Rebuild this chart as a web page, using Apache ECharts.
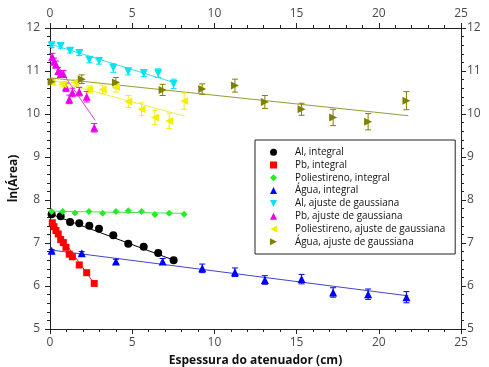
<!DOCTYPE html>
<html>
<head>
<meta charset="utf-8">
<script src="https://cdn.jsdelivr.net/npm/echarts@6/dist/echarts.min.js"></script>
<style>
  html, body { margin: 0; padding: 0; background: #fff; }
  #chart { width: 489px; height: 367px; }
</style>
</head>
<body>
<div id="chart"></div>
<script>
// espessuras (cm)
var xAl = [0.1, 0.65, 1.22, 1.78, 2.39, 2.98, 3.85, 4.76, 5.7, 6.58, 7.52];
var xPb = [0.14, 0.24, 0.36, 0.5, 0.65, 0.81, 0.97, 1.17, 1.36, 1.78, 2.23, 2.69];
var xPol = [0.1, 0.77, 1.52, 2.37, 3.2, 4.01, 4.76, 5.57, 6.38, 7.25, 8.16];
var xAgua = [0.1, 1.93, 4.01, 6.85, 9.26, 11.25, 13.07, 15.3, 17.22, 19.35, 21.68];

// ln(Area), integral
var alInt = [7.67, 7.62, 7.49, 7.46, 7.40, 7.33, 7.18, 6.98, 6.91, 6.77, 6.60];
var pbInt = [7.47, 7.38, 7.29, 7.21, 7.08, 7.01, 6.90, 6.74, 6.68, 6.49, 6.31, 6.06];
var polInt = [7.73, 7.73, 7.70, 7.73, 7.69, 7.73, 7.75, 7.73, 7.66, 7.69, 7.67];
var aguaInt = [6.82, 6.76, 6.57, 6.57, 6.41, 6.32, 6.14, 6.16, 5.85, 5.81, 5.74];
var aguaIntErr = [0.03, 0.04, 0.05, 0.07, 0.1, 0.1, 0.1, 0.11, 0.11, 0.12, 0.13];

// ln(Area), ajuste de gaussiana
var alGau = [11.60, 11.58, 11.47, 11.42, 11.26, 11.23, 11.07, 10.99, 10.95, 10.95, 10.70];
var alGauErr = [0.05, 0.05, 0.05, 0.06, 0.07, 0.07, 0.1, 0.08, 0.08, 0.1, 0.11];
var pbGau = [11.33, 11.22, 11.15, 11.0, 10.93, 10.93, 10.62, 10.34, 10.50, 10.52, 10.40, 9.68];
var pbGauErr = [0.08, 0.08, 0.08, 0.08, 0.08, 0.08, 0.1, 0.1, 0.1, 0.1, 0.12, 0.1];
var polGau = [10.73, 10.69, 10.73, 10.57, 10.57, 10.63, 10.29, 10.11, 9.92, 9.84, 10.30];
var polGauErr = [0.05, 0.06, 0.07, 0.08, 0.1, 0.12, 0.14, 0.15, 0.17, 0.18, 0.19];
var aguaGau = [10.75, 10.81, 10.73, 10.56, 10.58, 10.66, 10.28, 10.11, 9.92, 9.82, 10.31];
var aguaGauErr = [0.06, 0.1, 0.12, 0.13, 0.12, 0.15, 0.15, 0.14, 0.19, 0.19, 0.21];

// retas ajustadas [x0, y0, x1, y1]
var fitAlInt = [0, 7.68, 7.6, 6.59];
var fitPbInt = [0, 7.5, 2.7, 6.05];
var fitPolInt = [0, 7.74, 8.2, 7.69];
var fitAguaInt = [0, 6.84, 21.8, 5.77];
var fitAlGau = [0, 11.63, 7.55, 10.73];
var fitPbGau = [0, 11.38, 2.75, 9.85];
var fitPolGau = [0, 10.8, 8.2, 9.95];
var fitAguaGau = [0, 10.84, 21.8, 9.96];

var xTicks = [0, 5, 10, 15, 20, 25];
var yTicks = [5, 6, 7, 8, 9, 10, 11, 12];

var names = ['Al, integral', 'Pb, integral', 'Poliestireno, integral', 'Água, integral',
  'Al, ajuste de gaussiana', 'Pb, ajuste de gaussiana', 'Poliestireno, ajuste de gaussiana', 'Água, ajuste de gaussiana'];

var triUp = 'path://M5,0L10,10L0,10Z';
var triDown = 'path://M0,0L10,0L5,10Z';
var triLeft = 'path://M10,0L10,10L0,5Z';
var triRight = 'path://M0,0L0,10L10,5Z';

var sets = [
  { x: xAl, y: alInt, fit: fitAlInt, color: '#000000', line: '#000000', symbol: 'circle', size: 8, icon: 'circle' },
  { x: xPb, y: pbInt, fit: fitPbInt, color: '#ff0000', line: '#ff2020', symbol: 'rect', size: 7, icon: 'rect' },
  { x: xPol, y: polInt, fit: fitPolInt, color: '#22ee22', line: '#55dd55', symbol: 'diamond', size: 7, icon: 'diamond' },
  { x: xAgua, y: aguaInt, err: aguaIntErr, fit: fitAguaInt, color: '#0000ff', line: '#4444cc', symbol: triUp, size: 8, icon: triUp },
  { x: xAl, y: alGau, err: alGauErr, fit: fitAlGau, color: '#00e5ee', line: '#33e0e8', symbol: triDown, size: 8, icon: triDown },
  { x: xPb, y: pbGau, err: pbGauErr, fit: fitPbGau, color: '#ee00ee', line: '#dd44dd', symbol: triUp, size: 8, icon: triUp },
  { x: xPol, y: polGau, err: polGauErr, fit: fitPolGau, color: '#f0f000', line: '#f0f040', symbol: triLeft, size: 8, icon: triLeft },
  { x: xAgua, y: aguaGau, err: aguaGauErr, fit: fitAguaGau, color: '#808000', line: '#9a9a33', symbol: triRight, size: 8, icon: triRight }
];

function zip(xs, ys) {
  return xs.map(function (v, i) { return [v, ys[i]]; });
}

function errBar(params, api) {
  var x = api.value(0), y = api.value(1), e = api.value(2);
  var lo = api.coord([x, y - e]);
  var hi = api.coord([x, y + e]);
  var cw = 3;
  var st = api.style({ stroke: api.visual('color'), fill: null, lineWidth: 1 });
  return {
    type: 'group',
    children: [
      { type: 'line', shape: { x1: lo[0], y1: lo[1], x2: hi[0], y2: hi[1] }, style: st },
      { type: 'line', shape: { x1: lo[0] - cw, y1: lo[1], x2: lo[0] + cw, y2: lo[1] }, style: st },
      { type: 'line', shape: { x1: hi[0] - cw, y1: hi[1], x2: hi[0] + cw, y2: hi[1] }, style: st }
    ]
  };
}

var series = [];
sets.forEach(function (s) {
  series.push({
    type: 'line', silent: true, symbol: 'none', z: 1,
    lineStyle: { color: s.line, width: 1 },
    data: [[s.fit[0], s.fit[1]], [s.fit[2], s.fit[3]]]
  });
});
sets.forEach(function (s) {
  if (!s.err) return;
  series.push({
    type: 'custom', silent: true, z: 2,
    itemStyle: { color: s.color },
    renderItem: errBar,
    data: s.x.map(function (v, i) { return [v, s.y[i], s.err[i]]; })
  });
});
sets.forEach(function (s, i) {
  series.push({
    name: names[i], type: 'scatter', z: 3,
    symbol: s.symbol, symbolSize: s.size,
    itemStyle: { color: s.color, opacity: 1 },
    data: zip(s.x, s.y)
  });
});

var font = 'Open Sans';
var labelStyle = { color: '#4a4a4a', fontSize: 12, fontFamily: font };
var axisLine = { show: true, onZero: false, lineStyle: { color: '#222', width: 1 } };

function xAx(pos) {
  return {
    type: 'value', position: pos, min: xTicks[0], max: xTicks[xTicks.length - 1], interval: 5,
    axisLine: axisLine,
    axisTick: { show: true, length: 5, lineStyle: { color: '#222' } },
    minorTick: { show: true, splitNumber: 5, length: 3, lineStyle: { color: '#222' } },
    splitLine: { show: false },
    axisLabel: Object.assign({ margin: 8 }, labelStyle)
  };
}
function yAx(pos) {
  return {
    type: 'value', position: pos, min: yTicks[0], max: yTicks[yTicks.length - 1], interval: 1,
    axisLine: axisLine,
    axisTick: { show: true, length: 5, lineStyle: { color: '#222' } },
    minorTick: { show: true, splitNumber: 5, length: 3, lineStyle: { color: '#222' } },
    splitLine: { show: false },
    axisLabel: Object.assign({ margin: pos === 'left' ? 10 : 6 }, labelStyle)
  };
}

var xb = xAx('bottom');
xb.name = 'Espessura do atenuador (cm)';
xb.nameLocation = 'middle';
xb.nameGap = 26;
xb.nameMoveOverlap = false;
xb.nameTextStyle = { color: '#111', fontSize: 12, fontWeight: 'bold', fontFamily: font };
var yl = yAx('left');
yl.name = 'ln(Área)';
yl.nameLocation = 'middle';
yl.nameGap = 30;
yl.nameMoveOverlap = false;
yl.nameTextStyle = { color: '#111', fontSize: 12, fontWeight: 'bold', fontFamily: font };

var myChart = echarts.init(document.getElementById('chart'), null, { renderer: 'canvas' });

var option = {
  backgroundColor: '#fff',
  animation: false,
  grid: { left: 50, right: 28, top: 28, bottom: 38, containLabel: false, outerBoundsMode: 'none' },
  xAxis: [xb, xAx('top')],
  yAxis: [yl, yAx('right')],
  legend: {
    data: names.map(function (n, i) { return { name: n, icon: sets[i].icon }; }),
    orient: 'vertical',
    left: 255, top: 140,
    padding: [7, 10, 7, 15],
    itemWidth: 7, itemHeight: 7, itemGap: 2.4,
    borderColor: '#222', borderWidth: 1, borderRadius: 0,
    backgroundColor: '#fff',
    selectedMode: false,
    textStyle: { color: '#111', fontSize: 9.9, fontFamily: font, lineHeight: 10.4, padding: [0, 0, 0, 13] }
  },
  series: series
};

myChart.setOption(option);
</script>
</body>
</html>
